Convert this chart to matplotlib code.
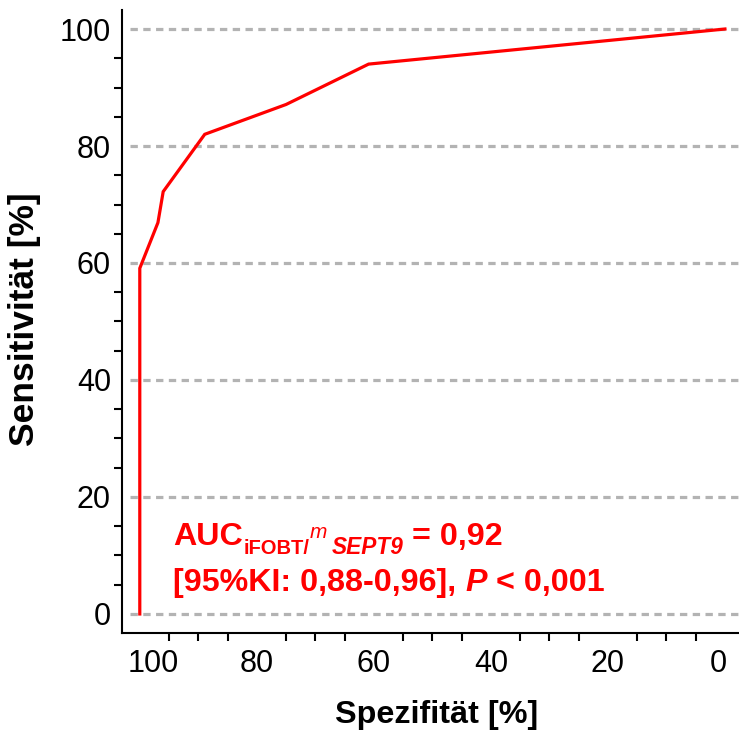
import matplotlib
matplotlib.use("Agg")
import matplotlib.pyplot as plt
from matplotlib.ticker import MultipleLocator, FixedLocator
from matplotlib.transforms import ScaledTranslation, offset_copy

# ---- data (ROC curve) ----
spezifitaet = [100.0, 100.0, 96.9, 96.0, 88.9, 75.0, 60.9, 0.0]
sensitivitaet = [0.0, 59.1, 66.9, 72.2, 82.0, 87.1, 94.0, 100.0]
tick_values = [0, 20, 40, 60, 80, 100]
x_label = "Spezifität [%]"
y_label = "Sensitivität [%]"

FONT = "Liberation Sans"
plt.rcParams["font.family"] = [FONT, "DejaVu Sans"]

W, H = 739, 733
fig = plt.figure(figsize=(W / 100, H / 100), dpi=100)
ax = fig.add_axes([122 / W, 1 - 632.7 / H, (W - 122) / W, (632.7 - 10) / H])

ax.set_xlim(103.04, -2.4)
ax.set_ylim(-3.2, 103.25)

# grid lines (dashed grey)
for gy in tick_values:
    ax.axhline(gy, xmin=8 / 617, xmax=1, color="#b3b3b3", lw=2.3,
               dashes=(2.3, 1.7), dash_capstyle="butt", zorder=1)

ax.plot(spezifitaet, sensitivitaet, color="#ff0000", lw=2.3, zorder=3,
        solid_joinstyle="miter", clip_on=False)

for s in ["top", "right"]:
    ax.spines[s].set_visible(False)
for s in ["left", "bottom"]:
    ax.spines[s].set_linewidth(1.5)

ax.xaxis.set_major_locator(FixedLocator(tick_values))
ax.yaxis.set_major_locator(FixedLocator(tick_values))
ax.xaxis.set_minor_locator(MultipleLocator(5))
ax.yaxis.set_minor_locator(MultipleLocator(5))
ax.tick_params(which="major", length=0, labelsize=22)
ax.tick_params(axis="x", which="major", pad=12)
ax.tick_params(axis="y", which="major", pad=8)
ax.tick_params(which="minor", length=6, width=1.5, direction="out")

ax.set_xlabel(x_label, fontsize=23.3, fontweight="bold")
ax.set_ylabel(y_label, fontsize=25.5, fontweight="bold")
ax.xaxis.set_label_coords((436.6 - 122) / 617, -(723 - 632.7) / 622.7)
ax.xaxis.label.set_verticalalignment("baseline")
ax.yaxis.set_label_coords((25 - 122) / 617, (632.7 - 319.4) / 622.7)
ax.yaxis.label.set_verticalalignment("center")
ax.yaxis.label.set_horizontalalignment("center")

fig.canvas.draw()
# end labels are pulled inwards in the reference
for lab in ax.get_xticklabels():
    if lab.get_text() == "100":
        lab.set_transform(lab.get_transform() + ScaledTranslation(13 / 100, 0, fig.dpi_scale_trans))
    elif lab.get_text() == "0":
        lab.set_transform(lab.get_transform() + ScaledTranslation(-7 / 100, 0, fig.dpi_scale_trans))

renderer = fig.canvas.get_renderer()


def draw_pieces(x, y, pieces):
    dx = 0.0
    for text, size, style, weight, dy, gap in pieces:
        dx += gap
        tr = offset_copy(ax.transData, fig=fig, x=dx, y=dy, units="points")
        t = ax.text(x, y, text, transform=tr, fontsize=size, fontstyle=style,
                    fontweight=weight, color="#ff0000", ha="left", va="baseline",
                    family=FONT, zorder=4)
        dx += t.get_window_extent(renderer).width * 72 / fig.dpi


MAIN = 23.2
space = 0.278 * MAIN
draw_pieces(94.3, 11.8, [
    ("AUC", MAIN, "normal", "bold", 0, 0),
    ("iFOBT/", 14.5, "normal", "bold", -6.5, 0.8),
    ("m", 15, "italic", "normal", 5.3, 0),
    ("SEPT9", 16.3, "italic", "bold", -6.5, 3.0),
    ("= 0,92", MAIN, "normal", "bold", 0, space),
])
draw_pieces(94.3, 3.9, [
    ("[95%KI: 0,88-0,96],", MAIN, "normal", "bold", 0, 0),
    ("P", MAIN, "italic", "bold", 0, space),
    ("< 0,001", MAIN, "normal", "bold", 0, space),
])

fig.savefig("out.png", dpi=100)
